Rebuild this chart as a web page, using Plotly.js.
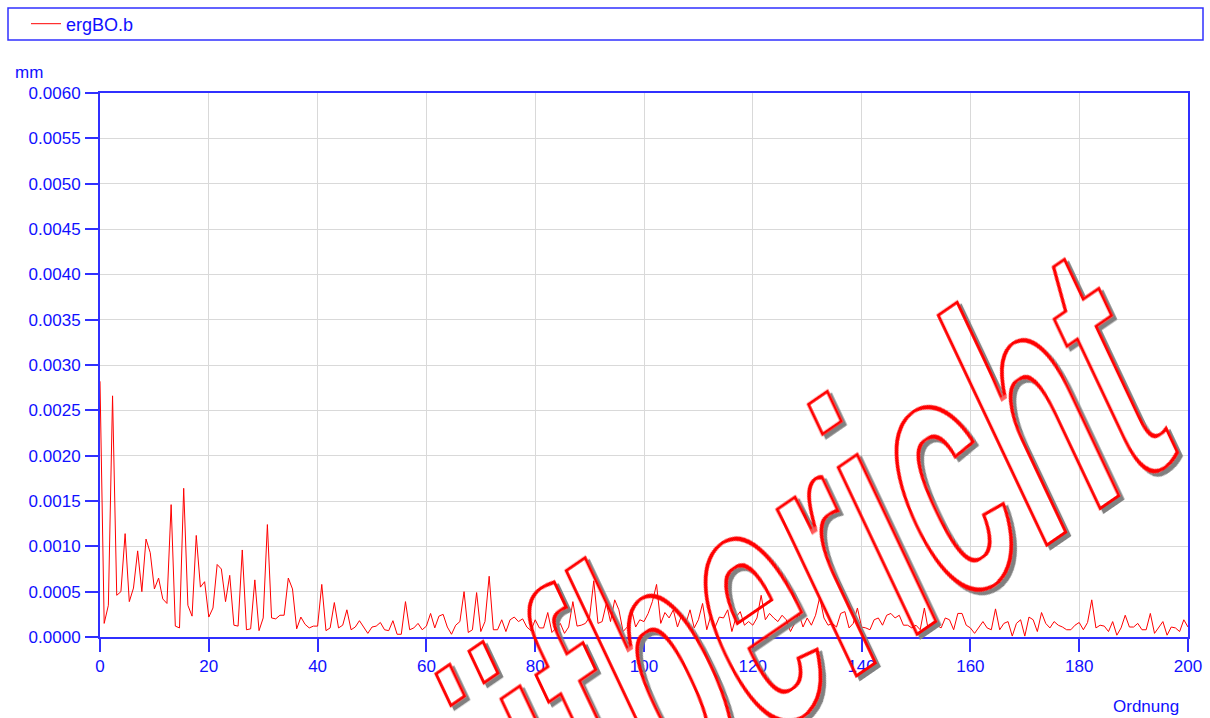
<!DOCTYPE html>
<html><head><meta charset="utf-8">
<script src="https://cdn.plot.ly/plotly-3.0.1.min.js"></script>
<style>html,body{margin:0;padding:0;background:#fff}#chart{width:1210px;height:718px}</style>
</head><body><div id="chart"></div>
<script>
// ---------- data ----------
const ORDNUNG_START = 0;          // first order of the spectrum
const ORDNUNG_STEP = 200 / 260;   // spacing between spectral lines
const SERIES_NAME = 'ergBO.b';
const ergBO_b = [
  0.00282, 0.00015, 0.00035, 0.00266, 0.00046, 0.00050, 0.00114, 0.00039, 0.00054, 0.00095,
  0.00050, 0.00108, 0.00093, 0.00053, 0.00065, 0.00042, 0.00037, 0.00146, 0.00012, 0.00010,
  0.00164, 0.00035, 0.00023, 0.00112, 0.00055, 0.00061, 0.00022, 0.00032, 0.00080, 0.00075,
  0.00039, 0.00068, 0.00013, 0.00012, 0.00096, 0.00008, 0.00009, 0.00063, 0.00007, 0.00021,
  0.00124, 0.00021, 0.00020, 0.00024, 0.00024, 0.00065, 0.00053, 0.00009, 0.00022, 0.00014,
  0.00010, 0.00012, 0.00012,
  0.00058, 0.00007, 0.00010, 0.00038, 0.00010, 0.00013, 0.00030, 0.00008, 0.00011, 0.00018,
  0.00011, 0.00004, 0.00011, 0.00012, 0.00016, 0.00008, 0.00007, 0.00018, 0.00003, 0.00003,
  0.00039, 0.00008, 0.00010, 0.00015, 0.00008, 0.00012, 0.00026, 0.00010, 0.00023, 0.00025,
  0.00011, 0.00003, 0.00013, 0.00017, 0.00050, 0.00005, 0.00008, 0.00049, 0.00006, 0.00017,
  0.00067, 0.00008, 0.00008, 0.00019, 0.00006, 0.00019, 0.00022, 0.00017, 0.00020, 0.00011,
  0.00007, 0.00019, 0.00010, 0.00010, 0.00027, 0.00005, 0.00010, 0.00015, 0.00004, 0.00011,
  0.00039,
  0.00012, 0.00013, 0.00015, 0.00022, 0.00062, 0.00015, 0.00017, 0.00037, 0.00017, 0.00041,
  0.00030, 0.00006, 0.00011, 0.00031, 0.00011, 0.00019, 0.00017, 0.00026, 0.00039, 0.00058,
  0.00015, 0.00027, 0.00021, 0.00030, 0.00011, 0.00024, 0.00015, 0.00030, 0.00010, 0.00019,
  0.00037, 0.00008, 0.00024, 0.00011, 0.00022, 0.00021, 0.00030, 0.00006, 0.00022, 0.00028,
  0.00013, 0.00017, 0.00013, 0.00021, 0.00046, 0.00019, 0.00026, 0.00021, 0.00017, 0.00024,
  0.00019, 0.00006, 0.00015, 0.00026, 0.00011, 0.00021, 0.00013, 0.00024, 0.00044, 0.00021,
  0.00013, 0.00015, 0.00011, 0.00026, 0.00028, 0.00010, 0.00015, 0.00032, 0.00011, 0.00010,
  0.00008, 0.00019, 0.00021, 0.00013, 0.00024, 0.00026, 0.00021,
  0.00024, 0.00013, 0.00013, 0.00010, 0.00013, 0.00008, 0.00032, 0.00006, 0.00011, 0.00013,
  0.00010, 0.00021, 0.00019, 0.00008, 0.00026, 0.00026, 0.00013, 0.00010, 0.00004, 0.00010,
  0.00017, 0.00010, 0.00008, 0.00031, 0.00008, 0.00015, 0.00017, 0.00001, 0.00015, 0.00019,
  0.00001, 0.00022, 0.00019, 0.00006, 0.00027, 0.00015, 0.00010, 0.00017, 0.00013, 0.00011,
  0.00008, 0.00008, 0.00013, 0.00016, 0.00008, 0.00016, 0.00041, 0.00010, 0.00013, 0.00012,
  0.00006, 0.00017, 0.00002, 0.00010, 0.00024, 0.00011, 0.00011, 0.00015, 0.00008, 0.00008,
  0.00026, 0.00004, 0.00011, 0.00017, 0.00002, 0.00011, 0.00010, 0.00006, 0.00019, 0.00011
];
const X_TICKS = [0, 20, 40, 60, 80, 100, 120, 140, 160, 180, 200];
const Y_TICKS = [0, 0.0005, 0.001, 0.0015, 0.002, 0.0025, 0.003, 0.0035, 0.004, 0.0045, 0.005, 0.0055, 0.006];
const Y_TICK_TEXT = ['0.0000','0.0005','0.0010','0.0015','0.0020','0.0025','0.0030','0.0035','0.0040','0.0045','0.0050','0.0055','0.0060'];
const Y_UNIT = 'mm';
const X_TITLE = 'Ordnung';
const WATERMARK = 'Prüfbericht';

// ---------- layout helpers ----------
const W = 1210, H = 718;
const M = {l: 100, r: 22, t: 93, b: 81};
const PW = W - M.l - M.r, PH = H - M.t - M.b;
const px2x = px => (px - M.l) / PW;
const py2y = py => (H - M.b - py) / PH;

const TXT = '#1010ff', AXIS = '#3030ff', GRID = '#d9d9d9';
const FONT = 'Liberation Sans, Arial, Helvetica, sans-serif';

const trace = {
  type: 'scatter', mode: 'lines', name: SERIES_NAME,
  x0: ORDNUNG_START, dx: ORDNUNG_STEP, y: ergBO_b,
  line: {color: '#ff0000', width: 1}
};

const axisCommon = {
  showline: true, linecolor: AXIS, linewidth: 2, mirror: true,
  ticks: 'outside', ticklen: 13, tickwidth: 2, tickcolor: AXIS,
  showgrid: true, gridcolor: GRID, gridwidth: 1, zeroline: false,
  tickfont: {family: FONT, size: 17, color: TXT}
};

const layout = {
  width: W, height: H,
  margin: {l: M.l, r: M.r, t: M.t, b: M.b, pad: 0, autoexpand: false},
  paper_bgcolor: '#ffffff', plot_bgcolor: '#ffffff',
  font: {family: FONT, size: 17, color: TXT},
  showlegend: true,
  legend: {
    x: px2x(26), xanchor: 'left', y: py2y(24), yanchor: 'middle',
    orientation: 'h', bgcolor: 'rgba(0,0,0,0)', borderwidth: 0,
    font: {family: FONT, size: 18, color: TXT}
  },
  xaxis: Object.assign({}, axisCommon, {range: [0, 200], tickvals: X_TICKS, ticktext: X_TICKS.map(String)}),
  yaxis: Object.assign({}, axisCommon, {range: [0, 0.006], tickvals: Y_TICKS, ticktext: Y_TICK_TEXT, ticklabelstandoff: 1}),
  shapes: [{
    type: 'rect', xref: 'paper', yref: 'paper',
    x0: px2x(8), x1: px2x(1203), y0: py2y(40), y1: py2y(8),
    line: {color: AXIS, width: 1.5}, fillcolor: 'rgba(0,0,0,0)'
  }],
  annotations: [
    {text: Y_UNIT, xref: 'paper', yref: 'paper', x: px2x(13), y: py2y(72), xanchor: 'left', yanchor: 'middle',
     showarrow: false, font: {family: FONT, size: 17, color: TXT}},
    {text: X_TITLE, xref: 'paper', yref: 'paper', x: px2x(1181), y: py2y(706), xanchor: 'right', yanchor: 'middle',
     showarrow: false, font: {family: FONT, size: 17, color: TXT}},
    {text: WATERMARK, xref: 'paper', yref: 'paper', x: 0.5, y: 0.5, showarrow: false,
     font: {family: 'Liberation Sans, Arial, sans-serif', size: 355, color: '#ff0000', weight: 700}}
  ]
};

Plotly.newPlot('chart', [trace], layout, {displayModeBar: false, staticPlot: true}).then(gd => {
  const ns = 'http://www.w3.org/2000/svg';
  const svg = gd.querySelector('svg.main-svg');
  const mk = (tag, attrs, parent) => {
    const e = document.createElementNS(ns, tag);
    for (const k in attrs) e.setAttribute(k, attrs[k]);
    if (parent) parent.appendChild(e);
    return e;
  };
  let defs = svg.querySelector('defs');
  if (!defs) defs = mk('defs', {}, svg);
  const f = mk('filter', {id: 'wmOutline', x: '-5%', y: '-8%', width: '110%', height: '116%',
                         'color-interpolation-filters': 'sRGB'}, defs);
  mk('feMorphology', {in: 'SourceAlpha', operator: 'erode', radius: '5.5 3', result: 'er'}, f);
  mk('feComposite', {in: 'SourceAlpha', in2: 'er', operator: 'out', result: 'ring'}, f);
  mk('feFlood', {'flood-color': '#ff0000', result: 'red'}, f);
  mk('feComposite', {in: 'red', in2: 'ring', operator: 'in', result: 'redring'}, f);
  mk('feOffset', {in: 'SourceAlpha', dx: '3.2', dy: '4.9', result: 'off'}, f);
  mk('feComposite', {in: 'off', in2: 'SourceAlpha', operator: 'out', result: 'sh'}, f);
  mk('feFlood', {'flood-color': '#808080', result: 'gray'}, f);
  mk('feComposite', {in: 'gray', in2: 'sh', operator: 'in', result: 'graysh'}, f);
  const mg = mk('feMerge', {}, f);
  mk('feMergeNode', {in: 'graysh'}, mg);
  mk('feMergeNode', {in: 'redring'}, mg);

  const txt = gd.querySelector('.annotation[data-index="2"] text.annotation-text');
  if (!txt) return;
  txt.querySelectorAll('tspan').forEach(t => { t.removeAttribute('x'); t.removeAttribute('y'); t.removeAttribute('dy'); });
  txt.removeAttribute('dy');
  txt.setAttribute('x', 0); txt.setAttribute('y', 0);
  txt.setAttribute('text-anchor', 'start');
  txt.style.textAnchor = 'start';
  // condensed, rotated and slightly sheared watermark placement
  const target = svg.createSVGMatrix();
  target.a = 0.4385; target.b = -0.3011; target.c = 0.427; target.d = 0.904; target.e = 352; target.f = 1024;
  const pm = txt.parentNode.getCTM();
  const loc = pm.inverse().multiply(target);
  txt.setAttribute('transform', `matrix(${loc.a} ${loc.b} ${loc.c} ${loc.d} ${loc.e} ${loc.f})`);
  txt.setAttribute('filter', 'url(#wmOutline)');
  const bg = txt.parentNode.querySelector('rect.bg');
  if (bg) bg.setAttribute('display', 'none');
});
</script>
</body></html>
